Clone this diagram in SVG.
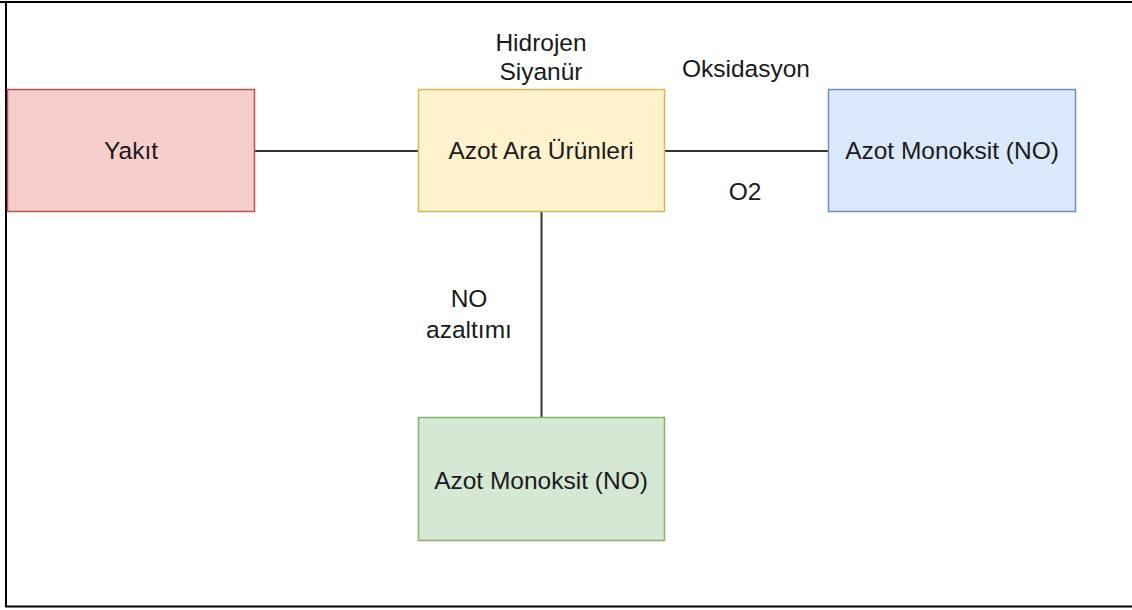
<svg xmlns="http://www.w3.org/2000/svg" width="1132" height="610" viewBox="0 0 1132 610">
<style>
.box{stroke-width:1.5}
.t{font-family:"Liberation Sans",Arial,sans-serif;font-size:24.5px;fill:#1a1a1a;text-anchor:middle}
.c{stroke:#333;stroke-width:2;fill:none}
</style>
<rect width="1132" height="610" fill="#fff"/>
<g id="frame" stroke="#000" stroke-width="2" fill="none">
<line x1="0" y1="2" x2="1132" y2="2"/>
<line x1="6" y1="1" x2="6" y2="607"/>
<line x1="5" y1="606.5" x2="1132" y2="606.5"/>
</g>
<g id="connectors">
<line class="c" x1="255" y1="151" x2="418" y2="151"/>
<line class="c" x1="665" y1="151" x2="828" y2="151"/>
<line class="c" x1="541.5" y1="212" x2="541.5" y2="417"/>
<text class="t" x="541" y="51">Hidrojen</text>
<text class="t" x="541" y="80">Siyanür</text>
<text class="t" x="746" y="77">Oksidasyon</text>
<text class="t" x="745" y="200">O2</text>
<text class="t" x="469" y="307">NO</text>
<text class="t" x="469" y="338">azaltımı</text>
</g>
<g id="yakit">
<rect class="box" x="7.5" y="89.5" width="247" height="122" fill="#f8cecc" stroke="#b85450"/>
<text class="t" x="131" y="159">Yakıt</text>
</g>
<g id="azot-ara">
<rect class="box" x="418.5" y="89.5" width="246" height="122" fill="#fff2cc" stroke="#d6b656"/>
<text class="t" x="541" y="159">Azot Ara Ürünleri</text>
</g>
<g id="no-blue">
<rect class="box" x="828.5" y="89.5" width="247" height="122" fill="#dae8fc" stroke="#6c8ebf"/>
<text class="t" x="952" y="159">Azot Monoksit (NO)</text>
</g>
<g id="no-green">
<rect class="box" x="418.5" y="417.5" width="246" height="123" fill="#d5e8d4" stroke="#82b366"/>
<text class="t" x="541" y="489">Azot Monoksit (NO)</text>
</g>
</svg>
